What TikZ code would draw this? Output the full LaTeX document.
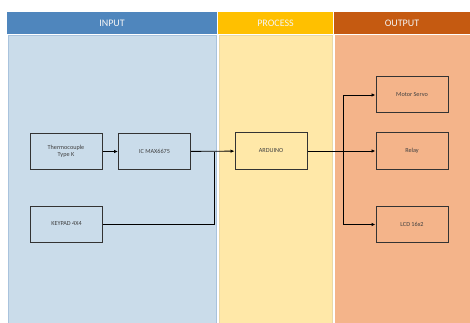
\documentclass[tikz,border=0pt]{standalone}
\usepackage{fontspec}
\setmainfont{Carlito}
\usetikzlibrary{arrows.meta}

\definecolor{inhead}{HTML}{4F86BD}
\definecolor{inbody}{HTML}{CADCEA}
\definecolor{inedge}{HTML}{A9C3DD}
\definecolor{prhead}{HTML}{FFC000}
\definecolor{prbody}{HTML}{FFE8A8}
\definecolor{predge}{HTML}{E8D9A8}
\definecolor{ouhead}{HTML}{C55A11}
\definecolor{oubody}{HTML}{F4B48A}

\tikzset{
  head/.style={font=\fontsize{10}{11}\selectfont, text=white!92!gray, minimum height=22pt, inner sep=0},
  block/.style={draw=black!80, line width=1pt, minimum width=72pt, minimum height=36pt,
    font=\fontsize{6.2}{7.4}\selectfont, text=black!75, align=center, inner sep=0},
  link/.style={draw=black, line width=0.9pt, -{Latex[length=4pt,width=3.5pt]}},
  wire/.style={draw=black, line width=0.9pt}
}

\begin{document}
\begin{tikzpicture}[x=1pt, y=-1pt]
\useasboundingbox (0,0) rectangle (470,323);
% column bodies
\filldraw[fill=inbody, draw=inedge, line width=0.6pt] (8,35) rectangle (216,330);
\filldraw[fill=prbody, draw=predge, line width=0.6pt] (219,35) rectangle (332,330);
\fill[oubody] (335,35) rectangle (475,330);
% headers
\node[head, fill=inhead, minimum width=210pt] (input) at (112,23) {INPUT};
\node[head, fill=prhead, minimum width=115pt] (process) at (275.5,23) {PROCESS};
\node[head, fill=ouhead, minimum width=136pt] (output) at (402,23) {OUTPUT};
% blocks
\node[block] (thermo) at (66,151.5) {Thermocouple\\Type K};
\node[block] (ic) at (154.5,151.5) {IC MAX6675};
\node[block] (keypad) at (66.5,224) {KEYPAD 4X4};
\node[block] (arduino) at (271,151) {ARDUINO};
\node[block] (motor) at (412,95) {Motor Servo};
\node[block] (relay) at (412,151) {Relay};
\node[block] (lcd) at (412,224.5) {LCD 16x2};
% connectors
\coordinate (join) at (214,151.5);
\coordinate (split) at (343,151);
\draw[link] (thermo) -- (ic);
\draw[link] (ic) -- (arduino);
\draw[wire] (keypad.east) -| (join);
\draw[link] (arduino) -- (relay);
\draw[link] (split) |- (motor.west);
\draw[link] (split) |- (lcd.west);
\end{tikzpicture}
\end{document}
